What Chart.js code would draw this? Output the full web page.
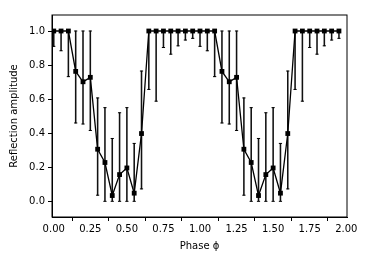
<!DOCTYPE html>
<html>
<head>
<meta charset="utf-8">
<script src="https://cdn.jsdelivr.net/npm/chart.js@4.4.1/dist/chart.umd.min.js"></script>
<style>
  html, body { margin: 0; padding: 0; background: #fff; }
  #wrap { width: 366px; height: 266px; }
</style>
</head>
<body>
<div id="wrap"><canvas id="myChart"></canvas></div>
<script>
var phase = [0.00, 0.05, 0.10, 0.15, 0.20, 0.25, 0.30, 0.35, 0.40, 0.45,
             0.50, 0.55, 0.60, 0.65, 0.70, 0.75, 0.80, 0.85, 0.90, 0.95,
             1.00, 1.05, 1.10, 1.15, 1.20, 1.25, 1.30, 1.35, 1.40, 1.45,
             1.50, 1.55, 1.60, 1.65, 1.70, 1.75, 1.80, 1.85, 1.90, 1.95];
var amplitude = [1.0, 1.0, 1.0, 0.763, 0.702, 0.728, 0.306, 0.228, 0.034, 0.157,
                 0.196, 0.048, 0.398, 1.0, 1.0, 1.0, 1.0, 1.0, 1.0, 1.0,
                 1.0, 1.0, 1.0, 0.763, 0.702, 0.728, 0.306, 0.228, 0.034, 0.157,
                 0.196, 0.048, 0.398, 1.0, 1.0, 1.0, 1.0, 1.0, 1.0, 1.0];
var errLow = [0.91, 0.884, 0.732, 0.46, 0.454, 0.416, 0.036, 0.0, 0.0, 0.0,
              0.0, 0.0, 0.073, 0.657, 0.588, 0.903, 0.864, 0.913, 0.947, 0.957,
              0.91, 0.884, 0.732, 0.46, 0.454, 0.416, 0.036, 0.0, 0.0, 0.0,
              0.0, 0.0, 0.073, 0.657, 0.588, 0.903, 0.864, 0.913, 0.947, 0.957];
var errHigh = [1.0, 1.0, 1.0, 1.0, 1.0, 1.0, 0.607, 0.55, 0.369, 0.52,
               0.55, 0.34, 0.765, 1.0, 1.0, 1.0, 1.0, 1.0, 1.0, 1.0,
               1.0, 1.0, 1.0, 1.0, 1.0, 1.0, 0.607, 0.55, 0.369, 0.52,
               0.55, 0.34, 0.765, 1.0, 1.0, 1.0, 1.0, 1.0, 1.0, 1.0];
var xTicks = [0, 0.25, 0.5, 0.75, 1.0, 1.25, 1.5, 1.75, 2.0];
var xTickLabels = ['0.00', '0.25', '0.50', '0.75', '1.00', '1.25', '1.50', '1.75', '2.00'];
var yTicks = [0, 0.2, 0.4, 0.6, 0.8, 1.0];
var yTickLabels = ['0.0', '0.2', '0.4', '0.6', '0.8', '1.0'];

var font = { family: "'DejaVu Sans'", size: 10 };

var points = phase.map(function (p, i) { return { x: p, y: amplitude[i] }; });
var bars = phase.map(function (p, i) { return { x: p, y: [errLow[i], errHigh[i]] }; });
var caps = [];
phase.forEach(function (p, i) {
    caps.push({ x: p, y: errLow[i] });
    caps.push({ x: p, y: errHigh[i] });
});

// frame on top and right like matplotlib
var frame = {
    id: 'frame',
    afterDraw: function (chart) {
        var a = chart.chartArea, c = chart.ctx;
        c.save();
        c.strokeStyle = '#000';
        c.lineWidth = 1;
        c.strokeRect(a.left, a.top, a.right - a.left, a.bottom - a.top);
        c.restore();
    }
};

var ctx = document.getElementById('myChart').getContext('2d');
var chart = new Chart(ctx, {
    type: 'line',
    data: {
        datasets: [
            {
                label: 'amplitude',
                data: points,
                borderColor: '#000',
                backgroundColor: '#000',
                borderWidth: 1.3,
                pointStyle: 'rect',
                pointRadius: 3.4,
                pointBorderWidth: 0,
                tension: 0,
                order: 1
            },
            {
                type: 'bar',
                label: 'error',
                data: bars,
                backgroundColor: '#111',
                borderWidth: 0,
                barThickness: 0.9,
                order: 3
            },
            {
                type: 'scatter',
                label: 'caps',
                data: caps,
                showLine: false,
                pointStyle: 'line',
                pointRadius: 1.6,
                borderColor: '#000',
                borderWidth: 1,
                order: 2
            }
        ]
    },
    options: {
        responsive: true,
        maintainAspectRatio: false,
        animation: false,
        events: [],
        layout: {
            padding: { left: 8, right: 19, top: 15, bottom: 14 }
        },
        plugins: {
            legend: { display: false },
            tooltip: { enabled: false }
        },
        scales: {
            x: {
                type: 'linear',
                offset: false,
                min: -0.012,
                max: 2.005,
                afterBuildTicks: function (s) {
                    s.ticks = xTicks.map(function (v) { return { value: v }; });
                },
                afterFit: function (s) { s.height = 35; },
                ticks: {
                    font: font,
                    color: '#000',
                    padding: 2,
                    maxRotation: 0,
                    autoSkip: false,
                    callback: function (v) { return xTickLabels[xTicks.indexOf(v)]; }
                },
                grid: {
                    drawOnChartArea: false,
                    drawTicks: true,
                    tickLength: 4,
                    tickColor: '#000'
                },
                border: { color: '#000' },
                title: {
                    display: true,
                    text: 'Phase \u03d5',
                    font: font,
                    color: '#000',
                    padding: { top: 3, bottom: 0 }
                }
            },
            y: {
                min: -0.092,
                max: 1.094,
                afterBuildTicks: function (s) {
                    s.ticks = yTicks.map(function (v) { return { value: v }; });
                },
                afterFit: function (s) { s.width = 44; },
                ticks: {
                    font: font,
                    color: '#000',
                    padding: 3,
                    callback: function (v) { return yTickLabels[yTicks.indexOf(v)]; }
                },
                grid: {
                    drawOnChartArea: false,
                    drawTicks: true,
                    tickLength: 4,
                    tickColor: '#000'
                },
                border: { color: '#000' },
                title: {
                    display: true,
                    text: 'Reflection amplitude',
                    font: font,
                    color: '#000',
                    padding: { top: 0, bottom: 4 }
                }
            }
        }
    },
    plugins: [frame]
});
</script>
</body>
</html>
